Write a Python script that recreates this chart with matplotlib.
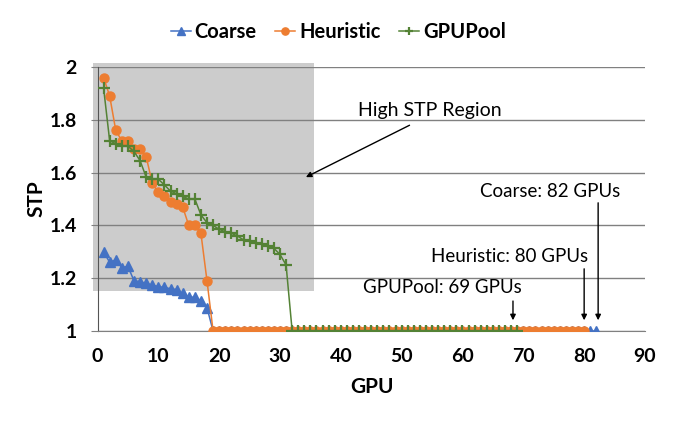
import matplotlib.pyplot as plt
from matplotlib.patches import Rectangle

plt.rcParams["font.family"] = ["Lato", "DejaVu Sans"]

# values; every series ends on a flat run at STP = 1.0
coarse_stp = [1.30, 1.26, 1.27, 1.24, 1.245, 1.19, 1.187, 1.18, 1.174, 1.168,
              1.165, 1.16, 1.157, 1.143, 1.128, 1.128, 1.115, 1.088] + [1.0] * 64
heuristic_stp = [1.96, 1.89, 1.76, 1.72, 1.72, 1.69, 1.69, 1.66, 1.56, 1.525,
                 1.51, 1.49, 1.48, 1.47, 1.40, 1.40, 1.37, 1.19] + [1.0] * 62
gpupool_stp = [1.92, 1.72, 1.71, 1.70, 1.70, 1.68, 1.645, 1.583, 1.577, 1.575,
               1.553, 1.53, 1.52, 1.51, 1.50, 1.50, 1.44, 1.41, 1.40, 1.385,
               1.376, 1.37, 1.36, 1.345, 1.34, 1.335, 1.33, 1.323, 1.313, 1.29,
               1.25] + [1.0] * 38

coarse_gpu = list(range(1, len(coarse_stp) + 1))
heuristic_gpu = list(range(1, len(heuristic_stp) + 1))
gpupool_gpu = list(range(1, len(gpupool_stp) + 1))

x_ticks = [0, 10, 20, 30, 40, 50, 60, 70, 80, 90]
y_ticks = [1, 1.2, 1.4, 1.6, 1.8, 2]
y_tick_labels = ["1", "1.2", "1.4", "1.6", "1.8", "2"]

# colours
blue = "#4472C4"
orange = "#ED7D31"
green = "#548235"

fig = plt.figure(figsize=(7, 4.25), dpi=100)
ax = fig.add_axes([0.1393, 0.2212, 0.7821, 0.6212])

# shaded region
ax.add_patch(Rectangle((-0.8, 1.153), 36.4, 0.861, facecolor="#CCCCCC",
                       edgecolor="none", zorder=0, clip_on=False))

ax.plot(coarse_gpu, coarse_stp, color=blue, marker="^", markersize=7.5,
        linewidth=1.1, label="Coarse", zorder=3)
ax.plot(heuristic_gpu, heuristic_stp, color=orange, marker="o", markersize=6.5,
        linewidth=1.1, label="Heuristic", zorder=4)
ax.plot(gpupool_gpu, gpupool_stp, color=green, marker="+", markersize=8,
        markeredgewidth=1.6, linewidth=1.1, label="GPUPool", zorder=5)

ax.set_xlim(0, 90)
ax.set_ylim(1, 2)
ax.set_xticks(x_ticks)
ax.set_yticks(y_ticks)
ax.set_yticklabels(y_tick_labels)
for lbl in ax.get_xticklabels() + ax.get_yticklabels():
    lbl.set_fontweight("bold")
ax.tick_params(axis="x", length=0, pad=12, labelsize=14)
ax.tick_params(axis="y", length=5, color="#808080", pad=10, labelsize=14)

ax.grid(axis="y", color="#808080", linewidth=1, zorder=1)
ax.set_axisbelow(True)
for side in ["top", "right"]:
    ax.spines[side].set_visible(False)
ax.spines["left"].set_color("#555555")
ax.spines["bottom"].set_color("#808080")

ax.set_xlabel("GPU", fontsize=15, fontweight="bold")
ax.set_ylabel("STP", fontsize=15, fontweight="bold")
ax.xaxis.set_label_coords(0.501, -0.174)
ax.yaxis.set_label_coords(-0.094, 0.5)

# annotations
ax.annotate("", xy=(33.85, 1.578), xytext=(51.7, 1.784),
            arrowprops=dict(arrowstyle="-|>", color="black", lw=1, mutation_scale=8))
ax.text(54.7, 1.837, "High STP Region", fontsize=14, ha="center", va="center")

notes = [("Coarse: 82 GPUs", 74.4, 1.528, 82.3, 1.496),
         ("Heuristic: 80 GPUs", 67.8, 1.284, 80.0, 1.246),
         ("GPUPool: 69 GPUs", 56.7, 1.164, 68.3, 1.124)]
for txt, tx, ty, ax_x, top in notes:
    ax.text(tx, ty, txt, fontsize=13.5, ha="center", va="center", zorder=6)
    ax.annotate("", xy=(ax_x, 1.03), xytext=(ax_x, top),
                arrowprops=dict(arrowstyle="-|>", color="black", lw=1,
                                mutation_scale=8), zorder=6)

fig.legend(loc="center", bbox_to_anchor=(0.483, 0.925), ncol=3, frameon=False,
           prop={"weight": "bold", "size": 14.5}, handlelength=1.0,
           handletextpad=0.2, columnspacing=0.9, markerscale=0.8)

fig.savefig("out.png", dpi=100)
